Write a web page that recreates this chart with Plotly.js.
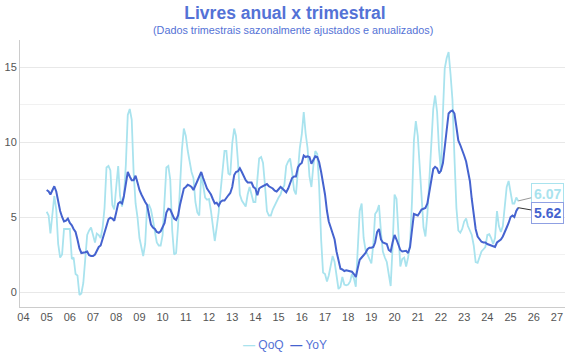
<!DOCTYPE html>
<html>
<head>
<meta charset="utf-8">
<script src="https://cdn.plot.ly/plotly-3.0.1.min.js"></script>
<style>html,body{margin:0;padding:0;background:#fff;}#chart{width:570px;height:360px;}</style>
</head>
<body>
<div id="chart"></div>
<script>
// Monthly series, Jan 2005 .. May 2025
var startYear = 2005;
var startMonth = 1;

var qoq = [
  // 2005
  5.35, 5.1, 3.9, 5.3, 6.4, 5.5, 3.2, 2.3, 2.5, 4.2, 4.2, 4.25,
  // 2006
  4.2, 2.2, 2.3, 1.2, 1.1, -0.2, -0.1, 0.6, 2.2, 3.8, 4.1, 4.3,
  // 2007
  3.8, 3.3, 3.9, 3.8, 3.6, 4.3, 5.6, 8.3, 8.4, 8.1, 5.8, 5.5,
  // 2008
  7.0, 8.4, 6.4, 5.7, 6.3, 8.5, 11.8, 12.2, 11.5, 8.0, 5.9, 5.0,
  // 2009
  3.6, 3.0, 2.4, 3.2, 5.7, 5.8, 5.5, 4.8, 4.0, 3.3, 3.1, 3.1,
  // 2010
  3.8, 6.3, 8.3, 8.4, 7.5, 4.1, 2.5, 2.6, 4.4, 7.0, 9.5, 10.9,
  // 2011
  10.4, 9.4, 8.7, 8.0, 7.6, 6.0, 5.3, 5.1, 7.9, 7.0, 6.3, 6.15,
  // 2012
  6.2, 5.4, 4.2, 3.4, 4.3, 5.3, 6.7, 8.3, 9.4, 9.4, 7.9, 7.8,
  // 2013
  9.9, 10.9, 10.4, 8.7, 6.5, 6.1, 5.9, 5.7, 6.5, 7.0, 6.5, 6.0,
  // 2014
  6.0, 7.3, 8.9, 9.0, 8.6, 7.1, 5.4, 5.1, 5.1, 5.5, 5.8, 6.1,
  // 2015
  6.3, 6.5, 6.9, 7.1, 8.4, 8.7, 8.9, 8.0, 6.8, 6.5, 8.0, 9.6,
  // 2016
  10.5, 12.0, 10.6, 9.6, 7.7, 7.0, 8.4, 9.4, 9.2, 7.0, 3.5, 1.3,
  // 2017
  1.2, 0.7, 1.1, 1.8, 2.4, 2.0, 1.0, 0.2, 0.35, 1.0, 0.5, 0.45,
  // 2018
  0.5, 0.7, 1.2, 0.9, 0.35, 3.0, 5.4, 5.9, 3.6, 2.8, 2.5, 2.2,
  // 2019
  1.9, 3.2, 5.2, 5.4, 5.8, 4.0, 2.7, 2.3, 2.0, 1.2, 0.4, 3.0,
  // 2020
  6.5, 6.2, 3.9, 1.7, 2.2, 2.3, 1.7, 2.3, 3.2, 6.0, 10.1, 11.4,
  // 2021
  10.4, 8.3, 6.5, 4.3, 3.7, 5.2, 7.4, 9.8, 12.2, 13.1, 12.0, 9.5,
  // 2022
  8.0, 12.0, 14.9, 15.6, 16.0, 14.5, 12.8, 9.0, 5.6, 4.1, 3.95, 4.2,
  // 2023
  4.7, 4.9, 4.4, 4.1, 3.8, 3.1, 2.0, 1.95, 2.3, 2.7, 2.85, 3.0,
  // 2024
  3.8, 3.85, 3.6, 3.2, 3.6, 5.4, 4.4, 4.0, 4.4, 5.8, 7.0, 7.4,
  // 2025
  6.6, 5.9, 5.9, 6.3, 6.07
];

var yoy = [
  // 2005
  6.8, 6.7, 6.5, 6.8, 7.05, 6.7, 6.0, 5.4, 5.0, 4.7, 4.75, 4.9,
  // 2006
  4.6, 4.45, 4.2, 4.0, 3.5, 2.9, 2.6, 2.6, 2.65, 2.7, 2.45, 2.4,
  // 2007
  2.4, 2.5, 2.8, 3.0, 3.1, 3.6, 4.0, 4.4, 4.85, 4.95, 4.9, 4.75,
  // 2008
  5.3, 5.9, 6.0, 5.9, 6.4, 7.2, 8.0, 7.7, 7.45, 7.45, 7.75, 7.3,
  // 2009
  6.8, 6.5, 6.2, 6.0, 5.8, 5.0, 4.5, 4.3, 4.2, 4.0, 3.95, 4.05,
  // 2010
  4.3, 4.6, 5.3, 5.55, 5.5, 5.2, 4.9, 4.8, 5.1, 5.8, 6.4, 6.9,
  // 2011
  7.0, 7.15, 7.1, 7.0, 6.8, 7.1, 7.3, 7.7, 8.0, 7.6, 7.2, 6.9,
  // 2012
  6.7, 6.5, 6.2, 5.9, 5.95, 5.75, 6.0, 6.1, 6.1, 6.3, 6.45, 6.6,
  // 2013
  7.0, 7.8, 8.0, 8.05, 8.25, 8.0, 7.7, 7.45, 7.3, 7.3, 7.3, 7.0,
  // 2014
  6.9, 6.45, 6.9, 7.0, 7.05, 7.1, 7.2, 7.05, 7.0, 6.9, 6.75, 6.7,
  // 2015
  6.85, 7.0, 6.9, 6.75, 6.65, 6.9, 7.2, 7.6, 7.7, 7.7, 8.3, 8.5,
  // 2016
  8.6, 9.1, 9.0, 9.05, 9.0, 8.55, 8.8, 9.05, 9.0, 8.65, 8.0, 7.3,
  // 2017
  6.5, 5.4, 4.7, 4.3, 3.9, 3.5, 2.7, 2.0, 1.55, 1.5, 1.4, 1.45,
  // 2018
  1.4, 1.35, 1.35, 1.2, 1.0, 1.6, 2.15, 2.3, 2.45, 2.6, 2.85, 2.95,
  // 2019
  2.95, 3.0, 3.3, 4.0, 4.2, 3.5, 3.3, 3.25, 3.2, 2.8, 2.7, 3.3,
  // 2020
  3.8, 3.5, 3.15, 2.8, 2.7, 2.7, 2.75, 2.6, 3.0, 4.1, 5.2, 5.15,
  // 2021
  5.1, 5.3, 5.5, 5.55, 5.6, 5.9, 6.7, 7.4, 8.2, 8.35, 8.25, 7.9,
  // 2022
  8.1, 8.6, 9.5, 10.8, 11.9, 12.05, 12.1, 11.9, 11.0, 10.1, 9.8, 9.5,
  // 2023
  9.1, 8.7, 8.1, 7.4, 6.2, 5.1, 4.2, 3.7, 3.5, 3.35, 3.3, 3.3,
  // 2024
  3.2, 3.15, 3.1, 3.0, 3.0, 3.3, 3.4, 3.5, 3.7, 3.95, 4.3, 4.6,
  // 2025
  5.0, 5.1, 5.0, 5.4, 5.62
];

var yearTicks = ['04','05','06','07','08','09','10','11','12','13','14','15','16','17','18','19','20','21','22','23','24','25','26','27'];
var seriesNames = ['QoQ', 'YoY'];

function pad(n){ return (n < 10 ? '0' : '') + n; }
var dates = [];
for (var i = 0; i < yoy.length; i++) {
  var m = startMonth - 1 + i;
  var y = startYear + Math.floor(m / 12);
  dates.push(y + '-' + pad(m % 12 + 1) + '-01');
}
var tickVals = yearTicks.map(function(t){ return '20' + t + '-01-01'; });

var cQoQ = '#a9e3ee';
var cYoY = '#4563cf';
var cText = '#5472d6';

var traces = [
  { x: dates, y: qoq, name: seriesNames[0], type: 'scatter', mode: 'lines',
    line: { color: cQoQ, width: 1.8 }, hoverinfo: 'skip' },
  { x: dates, y: yoy, name: seriesNames[1], type: 'scatter', mode: 'lines',
    line: { color: cYoY, width: 2 }, hoverinfo: 'skip' }
];

var lastDate = dates[dates.length - 1];
var lastQ = qoq[qoq.length - 1];
var lastY = yoy[yoy.length - 1];

var legendText =
  '<span style="color:' + cQoQ + '"><b>\u2014</b></span> ' + seriesNames[0] +
  '  <span style="color:' + cYoY + '"><b>\u2014</b></span> ' + seriesNames[1];

var layout = {
  width: 570, height: 360,
  margin: { l: 20, r: 5, t: 40, b: 53 },
  paper_bgcolor: '#ffffff', plot_bgcolor: '#ffffff',
  font: { family: 'Liberation Sans, Arial, sans-serif', color: '#555' },
  title: {
    text: '<b>Livres anual x trimestral</b>',
    font: { size: 17.5, color: cText, family: 'Liberation Sans, Arial, sans-serif' },
    x: 0.5, xanchor: 'center', y: 1 - 12.5/360, yanchor: 'middle'
  },
  xaxis: {
    type: 'date',
    range: ['2003-11-08', '2027-05-08'],
    tickvals: tickVals, ticktext: yearTicks,
    showgrid: false, zeroline: false,
    showline: true, linecolor: '#cccccc', linewidth: 1,
    ticks: '', tickfont: { size: 11, color: '#555' },
    automargin: false
  },
  yaxis: {
    range: [-1, 16.8],
    tickvals: [0, 5, 10, 15],
    showgrid: true, gridcolor: '#e8e8e8', gridwidth: 1,
    minor: { dtick: 2.5, tick0: 0, showgrid: true, gridcolor: '#f1f1f1', gridwidth: 1 },
    zeroline: false,
    showline: true, linecolor: '#cccccc', linewidth: 1,
    ticks: '', tickfont: { size: 11, color: '#555' },
    automargin: false
  },
  showlegend: false,
  annotations: [
    {
      xref: 'paper', yref: 'paper', x: 0.5, y: 1.0 + 10/267, xanchor: 'center', yanchor: 'middle',
      text: '(Dados trimestrais sazonalmente ajustados e anualizados)', showarrow: false,
      font: { size: 10.8, color: cText }
    },
    {
      xref: 'paper', yref: 'paper', x: (285 - 20) / 545, y: -(345 - 307) / 267,
      xanchor: 'center', yanchor: 'middle',
      text: legendText, showarrow: false,
      font: { size: 12, color: cText }
    },
    {
      x: lastDate, y: lastQ, xref: 'x', yref: 'y',
      text: '<b>' + lastQ.toFixed(2) + '</b>', showarrow: true, arrowhead: 0,
      arrowcolor: '#999999', arrowwidth: 1, ax: 29, ay: -7,
      font: { size: 14, color: cQoQ }, bgcolor: '#ffffff',
      bordercolor: cQoQ, borderwidth: 1, borderpad: 2
    },
    {
      x: lastDate, y: lastY, xref: 'x', yref: 'y',
      text: '<b>' + lastY.toFixed(2) + '</b>', showarrow: true, arrowhead: 0,
      arrowcolor: '#333333', arrowwidth: 1, ax: 29, ay: 5,
      font: { size: 14, color: cYoY }, bgcolor: '#ffffff',
      bordercolor: '#8fa0e3', borderwidth: 1, borderpad: 2
    }
  ]
};

Plotly.newPlot('chart', traces, layout, { displayModeBar: false, staticPlot: true });
</script>
</body>
</html>
